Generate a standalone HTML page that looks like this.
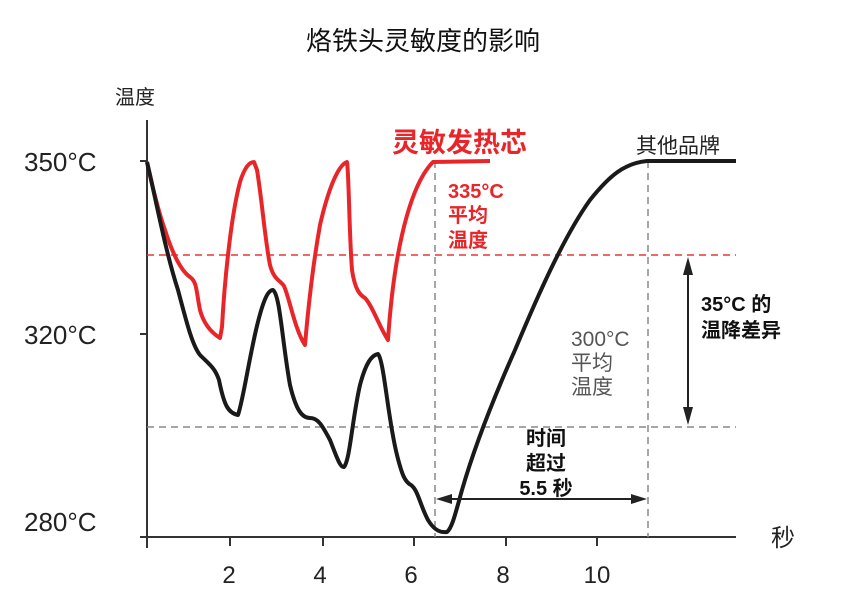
<!DOCTYPE html>
<html><head><meta charset="utf-8"><style>
body{margin:0;background:#fff;}
svg text{font-family:"Liberation Sans","Noto Sans CJK SC",sans-serif;}
</style></head><body>
<svg width="850" height="604" viewBox="0 0 850 604" xmlns="http://www.w3.org/2000/svg">
<text x="423" y="50" font-size="26" text-anchor="middle" fill="#111">烙铁头灵敏度的影响</text>
<text x="115" y="104" font-size="20" fill="#222">温度</text>
<text x="24" y="171" font-size="26" fill="#222">350°C</text>
<text x="24" y="344" font-size="26" fill="#222">320°C</text>
<text x="24" y="531" font-size="26" fill="#222">280°C</text>
<text x="771" y="546" font-size="24" fill="#222">秒</text>
<!-- axes -->
<line x1="147" y1="120" x2="147" y2="548" stroke="#333" stroke-width="2"/>
<line x1="140" y1="537" x2="736" y2="537" stroke="#333" stroke-width="2"/>
<g stroke="#333" stroke-width="2">
<line x1="140" y1="161" x2="147" y2="161"/><line x1="140" y1="334" x2="147" y2="334"/>
<line x1="230" y1="537" x2="230" y2="546"/><line x1="323" y1="537" x2="323" y2="546"/><line x1="414" y1="537" x2="414" y2="546"/><line x1="506" y1="537" x2="506" y2="546"/><line x1="597" y1="537" x2="597" y2="546"/>
</g>
<g font-size="24" fill="#222" text-anchor="middle">
<text x="229" y="583">2</text><text x="320" y="583">4</text><text x="411" y="583">6</text><text x="503" y="583">8</text><text x="597" y="583">10</text>
</g>
<!-- dashed -->
<line x1="147" y1="255" x2="736" y2="255" stroke="#e33" stroke-width="1.5" stroke-dasharray="7,5"/>
<line x1="147" y1="427" x2="736" y2="427" stroke="#888" stroke-width="1.5" stroke-dasharray="7,5"/>
<line x1="435" y1="161" x2="435" y2="537" stroke="#888" stroke-width="1.5" stroke-dasharray="7,5"/>
<line x1="648" y1="161" x2="648" y2="537" stroke="#888" stroke-width="1.5" stroke-dasharray="7,5"/>
<!-- red curve -->
<path d="M147,162 C152,185 158,210 165,230 C172,252 180,270 190,277 C197,282 196,290 200,310 C204,325 212,333 220,338 L222,327 C224,290 230,220 240,182 C245,166 250,162 254,162 L257,170 C262,200 265,240 270,265 C274,280 280,280 284,286 C290,300 295,330 305,345 C308,310 312,270 320,225 C328,190 338,165 347,162 C349,175 349,230 352,270 C355,290 360,295 365,298 C372,305 380,328 388,340 C390,310 394,270 402,235 C410,200 420,175 433,162 L490,161" fill="none" stroke="#e8262a" stroke-width="4" stroke-linejoin="round"/>
<!-- black curve -->
<path d="M147,162 C155,195 165,250 178,290 C186,320 192,345 200,355 C210,365 215,368 219,380 C224,405 228,413 238,415 C243,400 248,365 256,330 C263,300 268,290 273,290 C280,295 282,340 290,385 C296,410 302,418 310,418 C318,418 322,425 330,440 C336,455 340,468 344,467 C350,460 352,420 360,385 C366,362 372,355 378,354 C384,360 388,420 397,455 C402,475 405,482 411,485 C418,490 420,505 428,520 C434,530 440,533 447,532 C452,528 455,515 462,490 C475,445 495,395 515,350 C540,290 565,235 590,200 C610,175 625,163 647,161 L736,161" fill="none" stroke="#1a1a1a" stroke-width="4" stroke-linejoin="round"/>
<!-- arrows -->
<line x1="440" y1="499" x2="643" y2="499" stroke="#222" stroke-width="2"/>
<polygon points="436,499 452,494 452,504" fill="#222"/>
<polygon points="647,499 631,494 631,504" fill="#222"/>
<line x1="688" y1="262" x2="688" y2="420" stroke="#222" stroke-width="2"/>
<polygon points="688,257 683,275 693,275" fill="#222"/>
<polygon points="688,425 683,407 693,407" fill="#222"/>
<!-- labels -->
<text x="392" y="152" font-size="27" fill="#e8262a" font-weight="bold">灵敏发热芯</text>
<text x="636" y="153" font-size="21" fill="#222">其他品牌</text>
<g font-size="20" fill="#e8262a" font-weight="bold">
<text x="448" y="198">335°C</text><text x="448" y="222">平均</text><text x="448" y="247">温度</text>
</g>
<g font-size="21" fill="#555">
<text x="571" y="346">300°C</text><text x="571" y="370">平均</text><text x="571" y="394">温度</text>
</g>
<g font-size="20" fill="#111" font-weight="bold">
<text x="701" y="311">35°C 的</text><text x="701" y="337">温降差异</text>
<text x="546" y="445" text-anchor="middle">时间</text><text x="546" y="470" text-anchor="middle">超过</text><text x="546" y="495" text-anchor="middle">5.5 秒</text>
</g>
</svg>
</body></html>
